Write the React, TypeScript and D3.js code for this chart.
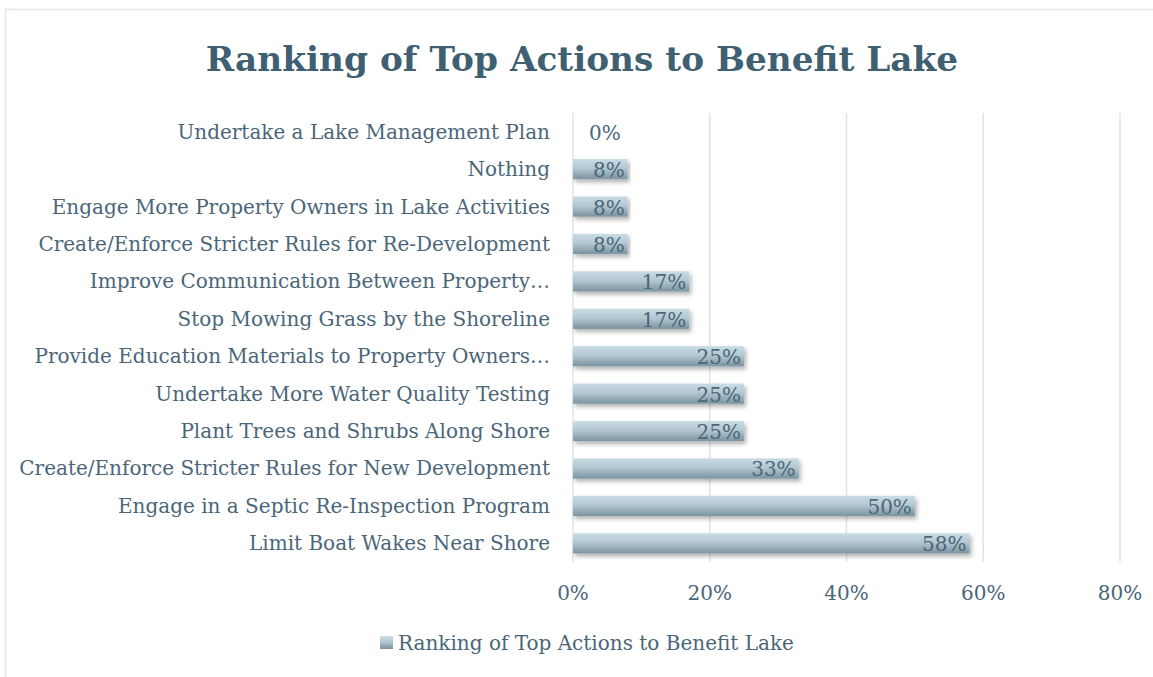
import React from "react";
import * as d3 from "d3";

const categories = [
  "Undertake a Lake Management Plan",
  "Nothing",
  "Engage More Property Owners in Lake Activities",
  "Create/Enforce Stricter Rules for Re-Development",
  "Improve Communication Between Property…",
  "Stop Mowing Grass by the Shoreline",
  "Provide Education Materials to Property Owners…",
  "Undertake More Water Quality Testing",
  "Plant Trees and Shrubs Along Shore",
  "Create/Enforce Stricter Rules for New Development",
  "Engage in a Septic Re-Inspection Program",
  "Limit Boat Wakes Near Shore",
];
const values = [0, 0.08, 0.08, 0.08, 0.17, 0.17, 0.25, 0.25, 0.25, 0.33, 0.5, 0.58];
const xTicks = [0, 0.2, 0.4, 0.6, 0.8];
const title = "Ranking of Top Actions to Benefit Lake";
const seriesName = "Ranking of Top Actions to Benefit Lake";

const W = 1153;
const H = 677;
const FONT = "'DejaVu Serif', serif";
const TFONT = "'DejaVu Serif', serif";

export default function App() {
  const x = d3.scaleLinear().domain([0, 0.8]).range([573, 1120]);
  const y = d3.scaleBand().domain(categories).range([113, 562]).paddingInner(0.46).paddingOuter(0.23);
  const fmt = d3.format(".0%");
  return (
    <svg width={W} height={H} style={{ position: "absolute", left: 0, top: 0, background: "#fff" }}>
      <defs>
        <linearGradient id="barGrad" x1="0" y1="0" x2="0" y2="1">
          <stop offset="0" stopColor="#cadce5" />
          <stop offset="0.45" stopColor="#b3c8d2" />
          <stop offset="1" stopColor="#7b93a0" />
        </linearGradient>
        <filter id="shadow" x="-5%" y="-20%" width="110%" height="160%">
          <feDropShadow dx="2" dy="3" stdDeviation="2" floodColor="#000" floodOpacity="0.3" />
        </filter>
      </defs>
      <rect x={5.5} y={9.5} width={W + 10} height={H} fill="#fff" stroke="#dfe5ea" strokeWidth={1.5} />
      <text x={582} y={71} textAnchor="middle" fontFamily={TFONT} fontWeight="bold" fontSize={34.3} fill="#3f5f72">
        {title}
      </text>
      {xTicks.map((t) => (
        <g key={t}>
          <line x1={x(t)} x2={x(t)} y1={113} y2={562} stroke="#dde4ea" strokeWidth={1.5} />
          <text x={x(t)} y={600} textAnchor="middle" fontFamily={FONT} fontSize={20} fill="#4a6678">
            {fmt(t)}
          </text>
        </g>
      ))}
      {categories.map((c, i) => {
        const yy = y(c)!;
        const bw = y.bandwidth();
        const v = values[i];
        return (
          <g key={c}>
            <text x={550} y={yy + bw / 2 + 7} textAnchor="end" fontFamily={FONT} fontSize={20} fill="#4a6678">
              {c}
            </text>
            {v > 0 && (
              <rect x={x(0)} y={yy} width={x(v) - x(0)} height={bw} fill="url(#barGrad)" filter="url(#shadow)" />
            )}
            <text x={v > 0 ? x(v) - 3 : x(0) + 16} y={yy + bw / 2 + 8} textAnchor={v > 0 ? "end" : "start"} fontFamily={FONT} fontSize={20} fill="#4a6678">
              {fmt(v)}
            </text>
          </g>
        );
      })}
      <rect x={380} y={636} width={13} height={13} fill="url(#barGrad)" />
      <text x={398} y={650} fontFamily={FONT} fontSize={20} fill="#4a6678">
        {seriesName}
      </text>
    </svg>
  );
}
